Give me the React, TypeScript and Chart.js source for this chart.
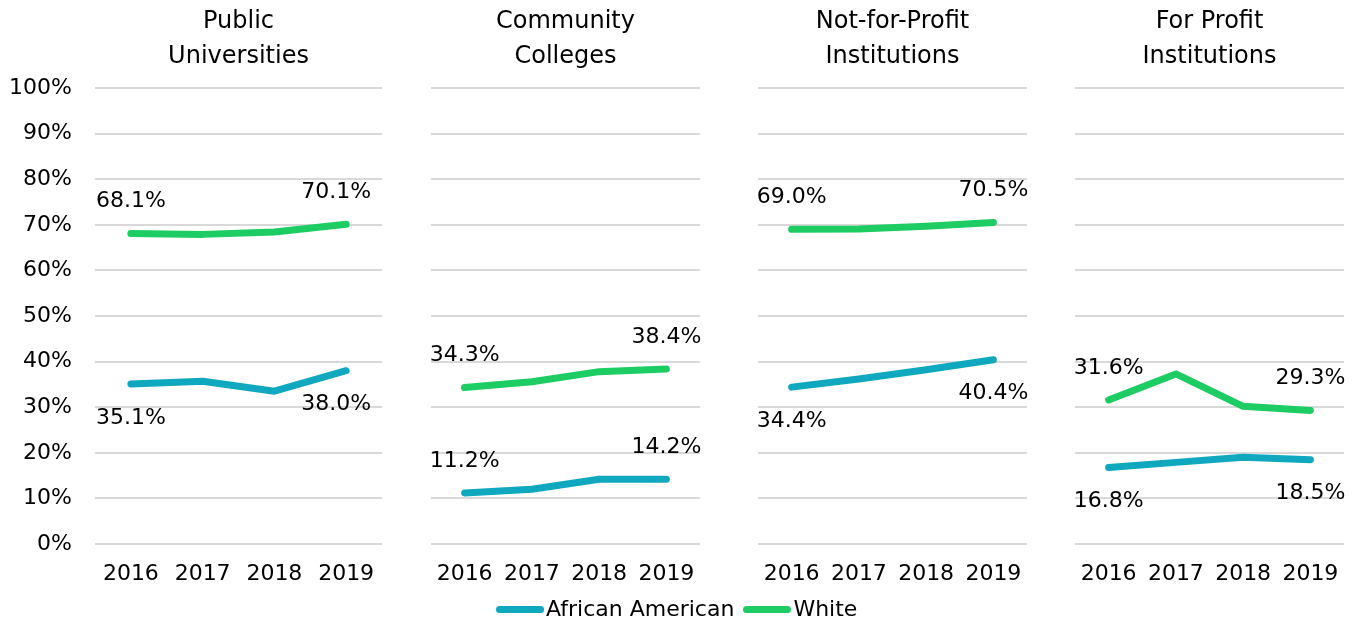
import React, { useEffect, useRef } from "react";
import { Chart, registerables } from "chart.js";

Chart.register(...registerables);

// ---------- data ----------
const years = ["2016", "2017", "2018", "2019"];
const seriesNames = ["African American", "White"];

const publicTitle = ["Public", "Universities"];
const communityTitle = ["Community", "Colleges"];
const nonprofitTitle = ["Not-for-Profit", "Institutions"];
const forprofitTitle = ["For Profit", "Institutions"];

const publicAA = [35.1, 35.7, 33.5, 38.0];
const publicWhite = [68.1, 67.9, 68.4, 70.1];
const communityAA = [11.2, 12.0, 14.2, 14.2];
const communityWhite = [34.3, 35.6, 37.8, 38.4];
const nonprofitAA = [34.4, 36.2, 38.2, 40.4];
const nonprofitWhite = [69.0, 69.1, 69.7, 70.5];
const forprofitAA = [16.8, 17.9, 19.0, 18.5];
const forprofitWhite = [31.6, 37.3, 30.2, 29.3];

const yMin = 0;
const yMax = 100;
const yStep = 10;

// ---------- styles ----------
const FONT = '"DejaVu Sans", sans-serif';
const AA_COLOR = "#0fa8bf";
const WHITE_COLOR = "#1ecc64";
const GRID_COLOR = "#d9d9d9";
const PLOT_TOP = 88;
const PLOT_BOTTOM = 544;
const SIDE_PAD = 20;

const endLabelPlugin = {
  id: "endLabels",
  afterDatasetsDraw(chart: any, _args: any, opts: any) {
    const ctx = chart.ctx;
    ctx.save();
    ctx.font = `22px ${FONT}`;
    ctx.fillStyle = "#000";
    ctx.textAlign = "center";
    ctx.textBaseline = "middle";
    chart.data.datasets.forEach((ds: any, di: number) => {
      const meta = chart.getDatasetMeta(di);
      const pos = opts.positions[di];
      const last = ds.data.length - 1;
      [0, last].forEach((i) => {
        const pt = meta.data[i];
        const dy = pos === "above" ? -32 : 34;
        const dx = i === last ? opts.lastDx : 0;
        ctx.fillText(Number(ds.data[i]).toFixed(1) + "%", pt.x + dx, pt.y + dy);
      });
    });
    ctx.restore();
  },
  afterDraw(chart: any, _args: any, opts: any) {
    const ctx = chart.ctx;
    const { left, right } = chart.chartArea;
    const cx = (left + right) / 2;
    ctx.save();
    ctx.font = `24px ${FONT}`;
    ctx.fillStyle = "#000";
    ctx.textAlign = "center";
    ctx.textBaseline = "middle";
    (opts.title || []).forEach((line: string, i: number) => {
      ctx.fillText(line, cx, 22 + i * 35);
    });
    ctx.restore();
  },
};

type PanelProps = {
  left: number;
  right: number;
  showY: boolean;
  title: string[];
  aa: number[];
  white: number[];
  positions: string[];
  lastDx: number;
};

function Panel(props: PanelProps) {
  const ref = useRef<HTMLCanvasElement | null>(null);
  const padL = props.showY ? 0 : SIDE_PAD;
  const padR = SIDE_PAD;
  const canvasLeft = props.showY ? 0 : props.left - padL;
  const width = props.right + padR - canvasLeft;

  useEffect(() => {
    if (!ref.current) return;
    const chart = new Chart(ref.current, {
      type: "line",
      data: {
        labels: years,
        datasets: [
          {
            label: seriesNames[0],
            data: props.aa,
            borderColor: AA_COLOR,
            backgroundColor: AA_COLOR,
            borderWidth: 7,
            borderCapStyle: "round",
            borderJoinStyle: "round",
            pointRadius: 0,
            tension: 0,
          },
          {
            label: seriesNames[1],
            data: props.white,
            borderColor: WHITE_COLOR,
            backgroundColor: WHITE_COLOR,
            borderWidth: 7,
            borderCapStyle: "round",
            borderJoinStyle: "round",
            pointRadius: 0,
            tension: 0,
          },
        ],
      },
      options: {
        animation: false,
        responsive: false,
        maintainAspectRatio: false,
        layout: {
          autoPadding: false,
          padding: { top: PLOT_TOP, bottom: 0, left: padL, right: padR },
        },
        plugins: {
          legend: { display: false },
          tooltip: { enabled: false },
          title: { display: false },
          endLabels: {
            positions: props.positions,
            lastDx: props.lastDx,
            title: props.title,
          },
        } as any,
        scales: {
          x: {
            type: "category",
            offset: true,
            grid: { display: false, drawTicks: false },
            border: { display: false },
            ticks: {
              font: { family: FONT, size: 22 },
              color: "#000",
              padding: 17,
              maxRotation: 0,
              autoSkip: false,
            },
            afterFit(scale: any) {
              scale.height = 624 - PLOT_BOTTOM;
            },
          },
          y: {
            min: yMin,
            max: yMax,
            grid: { color: GRID_COLOR, lineWidth: 2, drawTicks: false },
            border: { display: false },
            ticks: {
              display: props.showY,
              stepSize: yStep,
              font: { family: FONT, size: 22 },
              color: "#000",
              padding: 23,
              callback: (v: any) => v + "%",
            },
            afterFit(scale: any) {
              scale.width = props.showY ? props.left : 0;
            },
          },
        },
      },
      plugins: [endLabelPlugin],
    } as any);
    return () => chart.destroy();
  }, []);

  return (
    <canvas
      ref={ref}
      width={width}
      height={624}
      style={{
        position: "absolute",
        left: canvasLeft,
        top: 0,
        width: width,
        height: 624,
      }}
    />
  );
}

function Legend() {
  const item = (color: string, text: string, gap: number) => (
    <div style={{ display: "flex", alignItems: "center", marginRight: gap }}>
      <div
        style={{
          width: 48,
          height: 7,
          borderRadius: 4,
          background: color,
          marginRight: 2,
        }}
      />
      <span>{text}</span>
    </div>
  );
  return (
    <div
      style={{
        position: "absolute",
        left: 496,
        top: 596,
        height: 26,
        display: "flex",
        alignItems: "center",
        fontFamily: FONT,
        fontSize: 22,
        lineHeight: "26px",
        color: "#000",
        whiteSpace: "nowrap",
      }}
    >
      {item(AA_COLOR, seriesNames[0], 9)}
      {item(WHITE_COLOR, seriesNames[1], 0)}
    </div>
  );
}

export default function App() {
  return (
    <div
      style={{
        position: "absolute",
        left: 0,
        top: 0,
        width: 1359,
        height: 624,
        background: "#fff",
        overflow: "hidden",
      }}
    >
      <Panel left={95} right={382} showY={true} title={publicTitle} aa={publicAA} white={publicWhite} positions={["below", "above"]} lastDx={-10} />
      <Panel left={431} right={700} showY={false} title={communityTitle} aa={communityAA} white={communityWhite} positions={["above", "above"]} lastDx={0} />
      <Panel left={758} right={1027} showY={false} title={nonprofitTitle} aa={nonprofitAA} white={nonprofitWhite} positions={["below", "above"]} lastDx={0} />
      <Panel left={1075} right={1344} showY={false} title={forprofitTitle} aa={forprofitAA} white={forprofitWhite} positions={["below", "above"]} lastDx={0} />
      <Legend />
    </div>
  );
}
